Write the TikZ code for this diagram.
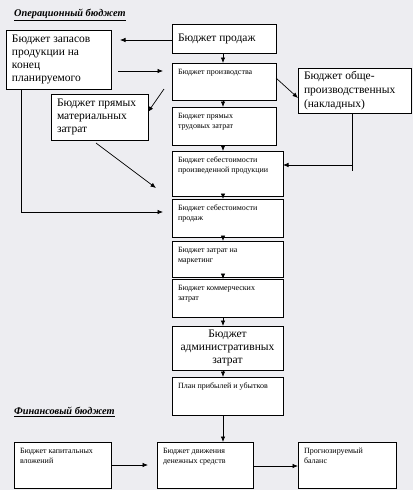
\documentclass[tikz,border=0pt]{standalone}
\usepackage{fontspec}
\setmainfont{Liberation Serif}
\usetikzlibrary{arrows.meta,calc}
\definecolor{bgc}{RGB}{237,237,241}
\newcommand\smalltxt{\fontsize{8}{10}\selectfont}
\newcommand\bigtxt{\fontsize{11.5}{13}\selectfont}
% top-aligned small text box content: height, width, text
\newcommand\tbx[3]{\parbox[c][#1][t]{#2}{\smalltxt\raggedright\rule{0pt}{11pt}#3\par}}
% vertically centred big text box content
\newcommand\cbx[3]{\parbox[c][#1][c]{#2}{\bigtxt\raggedright #3\par}}
\begin{document}
\begin{tikzpicture}[x=1pt,y=-1pt,
  bx/.style={draw, line width=0.8pt, fill=white, inner xsep=6pt, inner ysep=0pt, anchor=north west, outer sep=0pt},
  arr/.style={line width=0.7pt, -{Latex[length=5.5pt,width=4.5pt]}},
  ln/.style={line width=0.7pt},
  ttl/.style={anchor=west, inner sep=0pt, font=\fontsize{10.3}{12}\selectfont\bfseries\itshape}]
\useasboundingbox[fill=bgc] (0,0) rectangle (413,490);

\node[ttl] (t1) at (14,15) {\underline{Операционный бюджет}};
\node[ttl] (t2) at (14,412) {\underline{Финансовый бюджет}};

\node[bx] (A) at (6,30) {\cbx{59pt}{93pt}{Бюджет запасов\\продукции на\\конец\\планируемого}};
\node[bx] (B) at (172,24) {\cbx{29pt}{92pt}{Бюджет продаж}};
\node[bx] (C) at (172,63) {\tbx{37pt}{92pt}{Бюджет производства}};
\node[bx] (D) at (172,107) {\tbx{38pt}{92pt}{Бюджет прямых\\трудовых затрат}};
\node[bx] (E) at (51,94) {\cbx{46pt}{85pt}{Бюджет прямых\\материальных\\затрат}};
\node[bx] (F) at (298,68) {\parbox[c][45pt][c]{101pt}{\fontsize{11.5}{14}\selectfont\raggedright Бюджет обще-\\производственных\\(накладных)\par}};
\node[bx] (G) at (172,151) {\tbx{45pt}{99pt}{Бюджет себестоимости\\произведенной продукции}};
\node[bx] (H) at (172,199) {\tbx{38pt}{99pt}{Бюджет себестоимости\\продаж}};
\node[bx] (I) at (172,241) {\tbx{36pt}{99pt}{Бюджет затрат на\\маркетинг}};
\node[bx] (J) at (172,279) {\tbx{38pt}{99pt}{Бюджет коммерческих\\затрат}};
\node[bx] (K) at (172,326) {\parbox[c][44pt][c]{99pt}{\bigtxt\centering Бюджет\\административных\\затрат\par}};
\node[bx] (L) at (172,377) {\tbx{38pt}{99pt}{План прибылей и убытков}};
\node[bx] (M) at (14,442) {\tbx{46pt}{85pt}{Бюджет капитальных\\вложений}};
\node[bx] (N) at (157,442) {\tbx{46pt}{84pt}{Бюджет движения\\денежных средств}};
\node[bx] (O) at (298,442) {\tbx{46pt}{86pt}{Прогнозируемый\\баланс}};

\coordinate (c1) at (164,89);
\coordinate (e1) at (96,143);
\coordinate (e2) at (156,188);
\coordinate (f1) at (352,171);
\coordinate (f2) at (352,165);

\draw[arr,shorten >=9pt] (B.west |- 0,40) -- (A.east |- 0,40);
\draw[arr,shorten <=7pt,shorten >=9pt] (A.east |- 0,71) -- (C.west |- 0,71);
\draw[arr] (c1) -- (E.east |- 0,112);
\draw[arr] (B.south -| 223,0) -- (C.north -| 223,0);
\draw[arr] (C.south -| 223,0) -- (D.north -| 223,0);
\draw[arr] (C.east |- 0,78) -- (F.west |- 0,98);
\draw[arr] (D.south -| 223,0) -- (G.north -| 223,0);
\draw[ln] (F.south -| f1) -- (f1);
\draw[arr] (f2) -- (G.east |- f2);
\draw[arr] (e1) -- (e2);
\draw[arr,shorten >=9pt] (A.south -| 21,0) |- (H.west |- 0,212);
\draw[arr] (G.south -| 223,0) -- (H.north -| 223,0);
\draw[arr] (H.south -| 223,0) -- (I.north -| 223,0);
\draw[arr] (I.south -| 223,0) -- (J.north -| 223,0);
\draw[arr] (J.south -| 223,0) -- (K.north -| 223,0);
\draw[arr] (K.south -| 223,0) -- (L.north -| 223,0);
\draw[arr] (L.south -| 223,0) -- (N.north -| 223,0);
\draw[arr,shorten >=9pt] (M.east |- 0,465) -- (N.west |- 0,465);
\draw[arr] (N.east |- 0,466) -- (O.west |- 0,466);
\end{tikzpicture}
\end{document}
